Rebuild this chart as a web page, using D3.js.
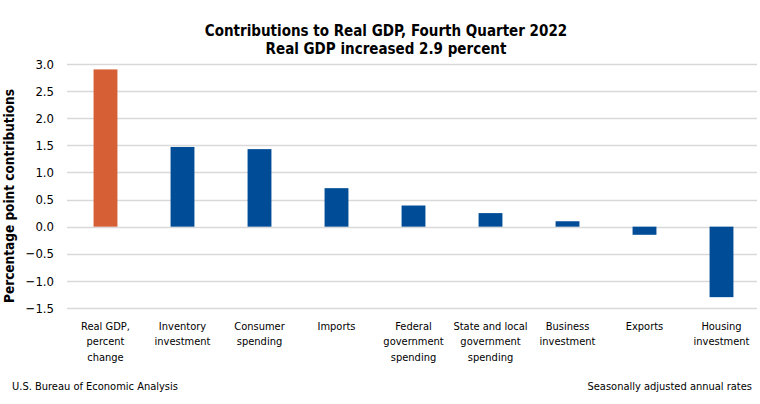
<!DOCTYPE html>
<html><head><meta charset="utf-8">
<script src="https://cdn.jsdelivr.net/npm/d3@7"></script>
<style>
body{margin:0;background:#fff;}
svg text{font-family:"Liberation Sans Narrow","DejaVu Sans Condensed","Liberation Sans",sans-serif;fill:#000;}
</style></head><body>
<svg id="c" width="760" height="404"></svg>
<script>
const categories = [
  "Real GDP,\npercent\nchange",
  "Inventory\ninvestment",
  "Consumer\nspending",
  "Imports",
  "Federal\ngovernment\nspending",
  "State and local\ngovernment\nspending",
  "Business\ninvestment",
  "Exports",
  "Housing\ninvestment"
];
const values = [2.9, 1.47, 1.43, 0.71, 0.39, 0.25, 0.10, -0.15, -1.30];
const yTicks = [3.0, 2.5, 2.0, 1.5, 1.0, 0.5, 0.0, -0.5, -1.0, -1.5];
const titleLines = ["Contributions to Real GDP, Fourth Quarter 2022", "Real GDP increased 2.9 percent"];
const yLabel = "Percentage point contributions";
const footLeft = "U.S. Bureau of Economic Analysis";
const footRight = "Seasonally adjusted annual rates";

(function() {
const svg = d3.select("#c");
const pLeft = 67, pRight = 760, pTop = 64, pBottom = 308;

const x = d3.scaleBand().domain(categories).range([pLeft, pRight]).paddingInner(0.69).paddingOuter(0.345);
const y = d3.scaleLinear().domain([-1.5, 3.0]).range([pBottom, pTop]);

// gridlines
svg.append("g").selectAll("line").data(yTicks).join("line")
  .attr("x1", pLeft).attr("x2", 757)
  .attr("y1", d => Math.round(y(d)) + 0.5).attr("y2", d => Math.round(y(d)) + 0.5)
  .attr("stroke", "#d9d9d9").attr("stroke-width", 1.5);

// y axis labels
const yAxis = d3.axisLeft(y).tickValues(yTicks).tickFormat(d3.format(".1f")).tickSize(0).tickPadding(0);
const ga = svg.append("g").attr("transform", `translate(54,0)`).call(yAxis);
ga.select(".domain").remove();
ga.selectAll("text").attr("font-size", 13).attr("fill", "#000")
  .style("font-family", "'Liberation Sans Narrow','DejaVu Sans Condensed',sans-serif");

// bars
svg.append("g").selectAll("rect").data(values).join("rect")
  .attr("x", (d, i) => x(categories[i]))
  .attr("width", x.bandwidth())
  .attr("y", d => y(Math.max(0, d)))
  .attr("height", d => Math.abs(y(d) - y(0)))
  .attr("fill", (d, i) => i === 0 ? "#d65f35" : "#004c97");

// x labels
const xl = svg.append("g").selectAll("text").data(categories).join("text")
  .attr("text-anchor", "middle").attr("font-size", 11)
  .attr("x", d => x(d) + x.bandwidth() / 2).attr("y", 330);
xl.each(function(d) {
  const t = d3.select(this);
  d.split("\n").forEach((ln, k) => {
    t.append("tspan").attr("x", t.attr("x")).attr("dy", k === 0 ? 0 : 15.3).text(ln);
  });
});

// title
svg.append("g").selectAll("text").data(titleLines).join("text")
  .attr("x", 386).attr("y", (d, i) => 36 + i * 17.5)
  .attr("text-anchor", "middle").attr("font-size", 15).attr("font-weight", "bold").text(d => d);

// y label
svg.append("text").attr("transform", "translate(14,196) rotate(-90)")
  .attr("text-anchor", "middle").attr("font-size", 13.5).attr("font-weight", "bold").text(yLabel);

// footers
svg.append("text").attr("x", 12).attr("y", 390).attr("font-size", 11).text(footLeft);
svg.append("text").attr("x", 752).attr("y", 390).attr("text-anchor", "end").attr("font-size", 11).text(footRight);
})();
</script></body></html>
